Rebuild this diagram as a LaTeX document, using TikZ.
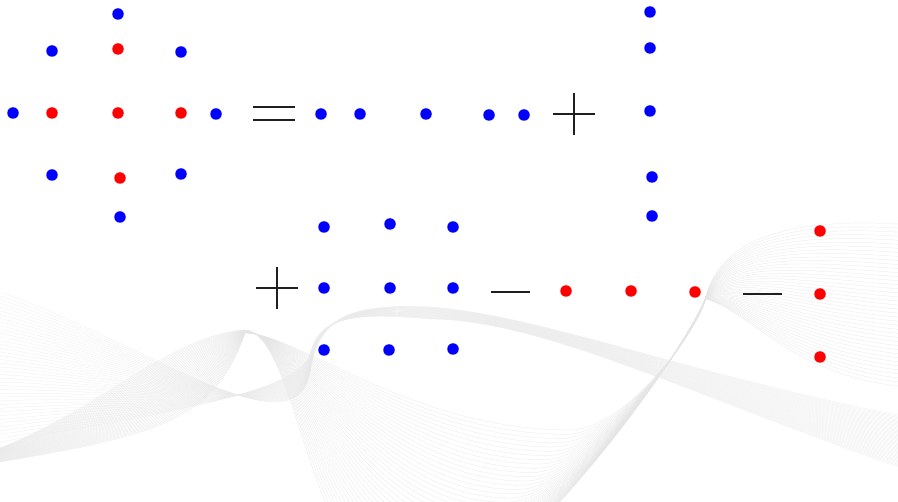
\documentclass[tikz,border=0pt]{standalone}
\begin{document}
\begin{tikzpicture}[x=1pt,y=-1pt,
  dotb/.style={circle,fill=blue,inner sep=0pt,minimum size=11.5pt},
  dotr/.style={circle,fill=red,inner sep=0pt,minimum size=11.5pt},
  op/.style={line width=2.4pt,draw=black!88,line cap=butt},
  wave/.style={draw=black!10,line width=0.22pt}]
\useasboundingbox[fill=white] (0,0) rectangle (898,502);
% background waves
\foreach \i in {0,...,40}{
  \pgfmathsetmacro\t{\i/40}
  % family A: left ribbon -> crest -> U -> pinch -> upper-right arcs
  \draw[wave] (0,{448+14*\t}) .. controls ({100+60*\t},{410+25*\t}) and ({170+45*\t},{335+85*\t}) .. (245,{330+3*\t})
     .. controls (300,{332+2*\t}) and ({310+100*\t},{600-170*\t}) .. ({420+150*\t},{600-170*\t})
     .. controls ({510+110*\t},{600-170*\t}) and (690,345) .. (706,{296+3*\t})
     .. controls ({722+30*\t},{238+75*\t}) and (790,{218+155*\t}) .. (898,{224+162*\t});
  % family B: wide faint fan from the left -> hook -> top ribbon -> lower right
  \draw[wave,draw=black!8] (0,{292+150*\t}) .. controls (150,{345+70*\t}) and (295,{455-60*\t}) .. (310,{372-17*\t})
     .. controls (318,320) and (345,{303+8*\t}) .. (430,{307+12*\t})
     .. controls (540,{315+5*\t}) and (680,{372+18*\t}) .. (898,{415+52*\t});
}
% left cross group
\node[dotb] (a1) at (118,14) {};
\node[dotb] (a2) at (52,51) {};
\node[dotr] (a3) at (118,49) {};
\node[dotb] (a4) at (181,52) {};
\node[dotb] (a5) at (13,113) {};
\node[dotr] (a6) at (52,113) {};
\node[dotr] (a7) at (118,113) {};
\node[dotr] (a8) at (181,113) {};
\node[dotb] (a9) at (216,114) {};
\node[dotb] (a10) at (52,175) {};
\node[dotr] (a11) at (120,178) {};
\node[dotb] (a12) at (181,174) {};
\node[dotb] (a13) at (120,217) {};
% equals
\draw[op,line width=2.1pt] (253,107) -- (295,107);
\draw[op,line width=2.1pt] (253,120) -- (295,120);
% row of blue dots
\node[dotb] (r1) at (321,114) {};
\node[dotb] (r2) at (360,114) {};
\node[dotb] (r3) at (426,114) {};
\node[dotb] (r4) at (489,115) {};
\node[dotb] (r5) at (524,115) {};
% plus 1
\draw[op] (553,114) -- (595,114);
\draw[op] (574,93) -- (574,135);
% column of blue dots
\node[dotb] (c1) at (650,12) {};
\node[dotb] (c2) at (650,48) {};
\node[dotb] (c3) at (650,111) {};
\node[dotb] (c4) at (652,177) {};
\node[dotb] (c5) at (652,216) {};
% plus 2
\draw[op] (256,288) -- (298,288);
\draw[op] (277,267) -- (277,309);
% 3x3 blue grid
\node[dotb] (g1) at (324,227) {};
\node[dotb] (g2) at (390,224) {};
\node[dotb] (g3) at (453,227) {};
\node[dotb] (g4) at (324,288) {};
\node[dotb] (g5) at (390,288) {};
\node[dotb] (g6) at (453,288) {};
\node[dotb] (g7) at (324,350) {};
\node[dotb] (g8) at (389,350) {};
\node[dotb] (g9) at (453,349) {};
% minus 1
\draw[op] (491,292) -- (530,292);
% red row
\node[dotr] (h1) at (566,291) {};
\node[dotr] (h2) at (631,291) {};
\node[dotr] (h3) at (695,292) {};
% minus 2
\draw[op] (743,294) -- (782,294);
% red column
\node[dotr] (v1) at (820,231) {};
\node[dotr] (v2) at (820,294) {};
\node[dotr] (v3) at (820,357) {};
\end{tikzpicture}
\end{document}
